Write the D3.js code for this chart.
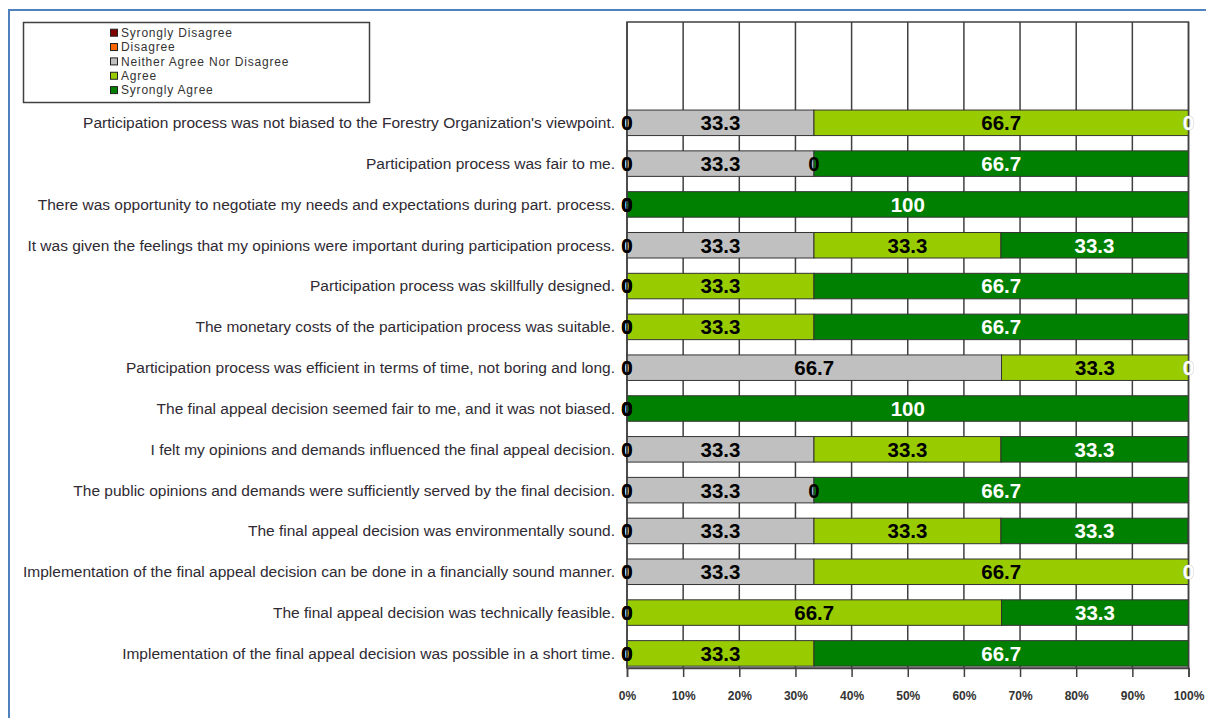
<!DOCTYPE html>
<html>
<head>
<meta charset="utf-8">
<script src="https://cdn.jsdelivr.net/npm/d3@7"></script>
<style>
  html, body { margin: 0; padding: 0; background: #fff; }
  svg { display: block; }
</style>
</head>
<body>
<svg id="chart" width="1206" height="718"></svg>
<script>
// Survey statements, top to bottom
const categories = [
  "Participation process was not biased to the Forestry Organization's viewpoint.",
  "Participation process was fair to me.",
  "There was opportunity to negotiate my needs and expectations during part. process.",
  "It was given the feelings that my opinions were important during participation process.",
  "Participation process was skillfully designed.",
  "The monetary costs of the participation process was suitable.",
  "Participation process was efficient in terms of time, not boring and long.",
  "The final appeal decision seemed fair to me, and it was not biased.",
  "I felt my opinions and demands influenced the final appeal decision.",
  "The public opinions and demands were sufficiently served by the final decision.",
  "The final appeal decision was environmentally sound.",
  "Implementation of the final appeal decision can be done in a financially sound manner.",
  "The final appeal decision was technically feasible.",
  "Implementation of the final appeal decision was possible in a short time."
];

// Percent of responses per answer
const stronglyDisagree = [0, 0, 0, 0, 0, 0, 0, 0, 0, 0, 0, 0, 0, 0];
const disagree         = [0, 0, 0, 0, 0, 0, 0, 0, 0, 0, 0, 0, 0, 0];
const neither          = [33.3, 33.3, 0, 33.3, 0, 0, 66.7, 0, 33.3, 33.3, 33.3, 33.3, 0, 0];
const agree            = [66.7, 0, 0, 33.3, 33.3, 33.3, 33.3, 0, 33.3, 0, 33.3, 66.7, 66.7, 33.3];
const stronglyAgree    = [0, 66.7, 100, 33.3, 66.7, 66.7, 0, 100, 33.3, 66.7, 33.3, 0, 33.3, 66.7];

const seriesNames = ["Syrongly Disagree", "Disagree", "Neither Agree Nor Disagree", "Agree", "Syrongly Agree"];
const seriesValues = [stronglyDisagree, disagree, neither, agree, stronglyAgree];
const seriesColors = ["#800000", "#FF6600", "#C0C0C0", "#99CC00", "#008000"];
const labelColors  = ["#000", "#000", "#000", "#000", "#fff"];
const xTicks = [0, 10, 20, 30, 40, 50, 60, 70, 80, 90, 100];

const svg = d3.select("#chart");
const font = "'Liberation Sans', Arial, sans-serif";

// outer frame edges
svg.append("line").attr("x1", 9).attr("x2", 1206).attr("y1", 10).attr("y2", 10)
  .attr("stroke", "#4F81BD").attr("stroke-width", 2);
svg.append("line").attr("x1", 9).attr("x2", 9).attr("y1", 9).attr("y2", 718)
  .attr("stroke", "#4F81BD").attr("stroke-width", 2);

const plot = { left: 627, right: 1188.5, top: 22, bottom: 668 };

const x = d3.scaleLinear().domain([0, 100]).range([plot.left, plot.right]);
const y = d3.scaleBand().domain(categories).range([102.4, 673.8])
  .paddingInner(0.375).paddingOuter(0.1875);

// plot area with vertical gridlines
svg.append("rect")
  .attr("x", plot.left).attr("y", plot.top)
  .attr("width", plot.right - plot.left).attr("height", plot.bottom - plot.top)
  .attr("fill", "#fff");
svg.append("g").selectAll("line").data(xTicks).join("line")
  .attr("x1", d => x(d)).attr("x2", d => x(d))
  .attr("y1", plot.top).attr("y2", plot.bottom)
  .attr("stroke", "#404040").attr("stroke-width", 1.5);

// stacked segments
const rows = categories.map((c, i) => {
  let acc = 0;
  return seriesValues.map((vals, s) => {
    const v = vals[i];
    const seg = { cat: c, s, v, x0: acc, x1: acc + v };
    acc += v;
    return seg;
  });
});
const segments = rows.flat();

svg.append("g").selectAll("rect").data(segments.filter(d => d.v > 0)).join("rect")
  .attr("x", d => x(d.x0))
  .attr("y", d => y(d.cat))
  .attr("width", d => x(d.x1) - x(d.x0))
  .attr("height", y.bandwidth())
  .attr("fill", d => seriesColors[d.s])
  .attr("stroke", "#333").attr("stroke-width", 1);

// plot frame
svg.append("rect")
  .attr("x", plot.left).attr("y", plot.top)
  .attr("width", plot.right - plot.left).attr("height", plot.bottom - plot.top)
  .attr("fill", "none").attr("stroke", "#404040").attr("stroke-width", 1.5);

// value labels
svg.append("g").selectAll("text").data(segments).join("text")
  .attr("x", d => x((d.x0 + d.x1) / 2))
  .attr("y", d => y(d.cat) + y.bandwidth() / 2)
  .attr("dy", "0.36em")
  .attr("text-anchor", "middle")
  .attr("font-family", font).attr("font-weight", "bold").attr("font-size", 20.5)
  .attr("fill", d => labelColors[d.s])
  .attr("stroke", d => (d.v === 0 && d.s === 4) ? "#b0b0b0" : "none")
  .attr("stroke-width", 0.6)
  .attr("paint-order", "stroke")
  .text(d => d.v === 0 ? "0" : String(d.v));

// category labels
svg.append("g").selectAll("text").data(categories).join("text")
  .attr("x", 615)
  .attr("y", d => y(d) + y.bandwidth() / 2)
  .attr("dy", "0.35em")
  .attr("text-anchor", "end")
  .attr("font-family", font).attr("font-size", 15.5)
  .attr("fill", "#2f2a33")
  .text(d => d);

// percentage axis
const axis = svg.append("g")
  .attr("transform", `translate(0,${plot.bottom})`)
  .call(d3.axisBottom(x).tickValues(xTicks).tickSize(9).tickPadding(14)
    .tickFormat(d => d + "%"));
axis.select(".domain").attr("stroke", "#404040").attr("stroke-width", 1.5);
axis.selectAll(".tick line").attr("stroke", "#404040").attr("stroke-width", 1.5);
axis.selectAll(".tick text")
  .attr("font-family", font).attr("font-weight", "bold").attr("font-size", 12)
  .attr("fill", "#333");

// legend
const legend = svg.append("g");
legend.append("rect")
  .attr("x", 23.5).attr("y", 22.5).attr("width", 346).attr("height", 80)
  .attr("fill", "#fff").attr("stroke", "#404040").attr("stroke-width", 1.5);
const items = legend.selectAll("g.item").data(seriesNames).join("g")
  .attr("class", "item")
  .attr("transform", (d, i) => `translate(110,${32.7 + i * 14.35})`);
items.append("rect")
  .attr("x", 0.5).attr("y", -3.5).attr("width", 7).attr("height", 7)
  .attr("fill", (d, i) => seriesColors[i]).attr("stroke", "#222").attr("stroke-width", 1);
items.append("text")
  .attr("x", 11).attr("dy", "0.36em")
  .attr("font-family", font).attr("font-size", 12)
  .attr("letter-spacing", "0.8px")
  .attr("fill", "#333")
  .text(d => d);
</script>
</body>
</html>
